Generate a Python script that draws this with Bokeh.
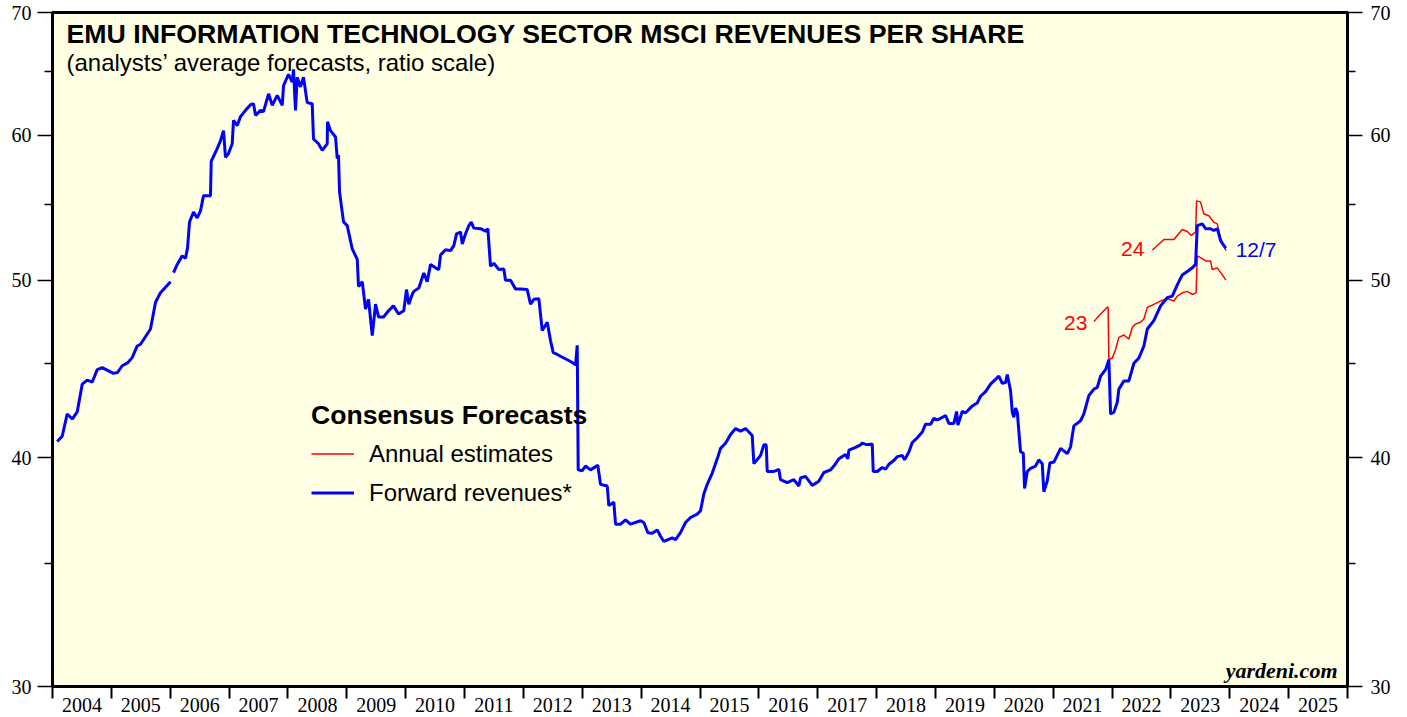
from bokeh.plotting import figure
from bokeh.models import (Range1d, FixedTicker, LogAxis, Label, Legend, LegendItem,
                          CustomJSTickFormatter)
from bokeh.embed import file_html
from bokeh.resources import INLINE

NaN = float("nan")

# ---- data (decimal years, revenues per share) ----
fwd_dates = [
    2004.080, 2004.165, 2004.250, 2004.335, 2004.420, 2004.505, 2004.590, 2004.675, 2004.760, 2004.845,
    2005.036, 2005.104, 2005.184, 2005.274, 2005.354, 2005.439, 2005.495, 2005.665, 2005.750, 2005.835,
    2006.005, 2006.030, 2006.056, 2006.119, 2006.204, 2006.260, 2006.294, 2006.328, 2006.396, 2006.458,
    2006.514, 2006.565, 2006.684, 2006.696, 2006.735, 2006.798, 2006.854, 2006.905, 2006.939, 2006.990,
    2007.053, 2007.075, 2007.138, 2007.194, 2007.279, 2007.364, 2007.415, 2007.449, 2007.534, 2007.585,
    2007.670, 2007.733, 2007.818, 2007.903, 2007.925, 2008.010, 2008.072, 2008.094, 2008.128, 2008.157,
    2008.213, 2008.264, 2008.327, 2008.412, 2008.434, 2008.519, 2008.582, 2008.667, 2008.672, 2008.723,
    2008.808, 2008.837, 2008.859, 2008.876, 2008.944, 2009.007, 2009.092, 2009.177, 2009.199, 2009.262,
    2009.318, 2009.369, 2009.432, 2009.488, 2009.539, 2009.624, 2009.709, 2009.793, 2009.878, 2009.968,
    2010.014, 2010.053, 2010.111, 2010.138, 2010.223, 2010.308, 2010.366, 2010.422, 2010.507, 2010.563,
    2010.592, 2010.677, 2010.762, 2010.818, 2010.864, 2010.932, 2010.961, 2011.017, 2011.073, 2011.114,
    2011.158, 2011.272, 2011.357, 2011.396, 2011.441, 2011.498, 2011.583, 2011.667, 2011.696, 2011.781,
    2011.866, 2011.951, 2012.065, 2012.121, 2012.177, 2012.262, 2012.320, 2012.405, 2012.461, 2012.507,
    2012.575, 2012.687, 2012.801, 2012.886, 2012.914, 2012.931, 2012.999, 2013.055, 2013.140, 2013.264,
    2013.310, 2013.424, 2013.451, 2013.536, 2013.565, 2013.650, 2013.735, 2013.820, 2013.990, 2014.046,
    2014.114, 2014.189, 2014.274, 2014.330, 2014.386, 2014.529, 2014.584, 2014.669, 2014.754, 2014.839,
    2014.953, 2015.009, 2015.065, 2015.123, 2015.208, 2015.293, 2015.349, 2015.434, 2015.519, 2015.604,
    2015.689, 2015.774, 2015.887, 2015.915, 2016.029, 2016.084, 2016.125, 2016.142, 2016.254, 2016.339,
    2016.368, 2016.482, 2016.594, 2016.679, 2016.708, 2016.793, 2016.907, 2017.019, 2017.104, 2017.218,
    2017.274, 2017.359, 2017.473, 2017.512, 2017.529, 2017.643, 2017.727, 2017.756, 2017.841, 2017.926,
    2017.943, 2018.011, 2018.096, 2018.152, 2018.209, 2018.293, 2018.351, 2018.436, 2018.475, 2018.548,
    2018.606, 2018.691, 2018.776, 2018.832, 2018.917, 2018.973, 2019.031, 2019.087, 2019.172, 2019.228,
    2019.313, 2019.359, 2019.381, 2019.455, 2019.511, 2019.567, 2019.625, 2019.710, 2019.766, 2019.851,
    2019.936, 2020.021, 2020.077, 2020.135, 2020.191, 2020.220, 2020.276, 2020.305, 2020.332, 2020.361,
    2020.390, 2020.446, 2020.492, 2020.514, 2020.560, 2020.616, 2020.700, 2020.756, 2020.814, 2020.841,
    2020.899, 2020.944, 2021.012, 2021.126, 2021.240, 2021.295, 2021.351, 2021.465, 2021.521, 2021.606,
    2021.691, 2021.749, 2021.805, 2021.890, 2021.946, 2021.975, 2022.031, 2022.089, 2022.116, 2022.201,
    2022.286, 2022.371, 2022.456, 2022.541, 2022.599, 2022.710, 2022.824, 2022.938, 2023.023, 2023.108,
    2023.193, 2023.278, 2023.363, 2023.419, 2023.448, 2023.533, 2023.589, 2023.674, 2023.730, 2023.788,
    2023.844, 2023.900, 2023.935,
]
fwd_values = [
    40.82, 41.09, 42.26, 41.99, 42.37, 43.87, 44.10, 43.99, 44.68, 44.79,
    44.47, 44.52, 44.90, 45.06, 45.36, 46.03, 46.13, 47.02, 48.63, 49.22,
    49.90, NaN, 50.47, 51.00, 51.55, 51.40, 52.07, 53.80, 54.47, 54.07,
    54.55, 55.60, 55.60, 58.05, 58.41, 58.99, 59.59, 60.34, 58.34, 58.63,
    59.35, 61.12, 60.73, 61.41, 61.90, 62.34, 62.42, 61.51, 61.90, 61.80,
    63.20, 62.29, 63.07, 62.29, 63.85, 64.77, 64.14, 65.17, 61.90, 64.53,
    63.75, 64.53, 62.50, 62.42, 59.71, 59.35, 58.86, 59.35, 61.01, 60.34,
    59.86, 58.26, 58.50, 55.87, 53.80, 53.55, 52.00, 51.33, 49.60, 49.90,
    48.22, 48.81, 46.63, 48.51, 47.74, 47.74, 48.11, 48.41, 47.92, 48.11,
    49.41, 48.51, 49.11, 49.30, 49.51, 50.45, 49.90, 51.00, 50.78, 50.67,
    51.60, 51.95, 51.89, 52.22, 53.00, 53.12, 52.33, 53.00, 53.55, 53.78,
    53.38, 53.34, 53.18, 53.34, 50.89, 51.07, 50.67, 50.71, 50.00, 50.00,
    49.45, 49.45, 49.41, 48.51, 48.81, 48.85, 46.93, 47.42, 46.33, 45.64,
    45.54, 45.34, 45.14, 44.95, 46.07, 39.39, 39.35, 39.58, 39.39, 39.62,
    38.68, 38.60, 37.66, 37.82, 36.79, 36.79, 36.99, 36.79, 36.95, 36.87,
    36.40, 36.37, 36.52, 36.24, 36.00, 36.16, 36.08, 36.40, 36.87, 37.10,
    37.26, 37.42, 38.21, 38.68, 39.23, 39.94, 40.47, 40.73, 41.18, 41.49,
    41.36, 41.49, 41.13, 39.70, 40.11, 40.65, 40.65, 39.31, 39.31, 39.42,
    38.91, 38.76, 38.91, 38.60, 38.99, 39.07, 38.63, 38.83, 39.26, 39.39,
    39.58, 39.94, 40.16, 39.94, 40.38, 40.52, 40.65, 40.74, 40.65, 40.70,
    39.31, 39.31, 39.51, 39.42, 39.67, 39.86, 40.05, 40.11, 39.89, 40.29,
    40.77, 41.01, 41.31, 41.72, 41.72, 42.03, 41.95, 42.03, 42.17, 41.76,
    41.76, 42.39, 41.67, 42.39, 42.32, 42.50, 42.68, 42.85, 43.21, 43.46,
    43.87, 44.14, 44.32, 43.92, 43.96, 44.41, 43.51, 42.35, 42.08, 42.57,
    42.35, 40.29, 40.23, 38.48, 39.31, 39.47, 39.58, 39.89, 39.70, 38.32,
    38.84, 39.73, 39.78, 40.47, 40.20, 40.55, 41.63, 41.90, 42.26, 43.24,
    43.60, 43.69, 44.32, 44.68, 45.24, 42.26, 42.35, 42.89, 43.60, 44.05,
    44.05, 45.04, 45.34, 46.03, 47.02, 47.52, 48.41, 48.91, 49.01, 49.70,
    50.33, 50.55, 50.78, 51.00, 53.55, 53.67, 53.34, 53.34, 53.22, 53.34,
    52.55, 52.22, 52.05,
]

est23_dates = [
    2021.691, 2021.805, 2021.919, 2021.933, 2021.946, 2022.004, 2022.060, 2022.116, 2022.201, 2022.286,
    2022.344, 2022.400, 2022.485, 2022.541, 2022.599, 2022.684, 2022.769, 2022.824, 2022.938, 2023.050,
    2023.108, 2023.193, 2023.278, 2023.363, 2023.428, 2023.448, 2023.503, 2023.589, 2023.674, 2023.703,
    2023.788, 2023.873, 2023.935,
]
est23_values = [
    47.46, 47.92, 48.32, 48.32, 45.24, 45.34, 45.83, 46.53, 46.67, 46.43,
    47.13, 47.32, 47.42, 47.62, 48.32, 48.45, 48.61, 48.71, 48.85, 48.71,
    49.01, 49.21, 49.30, 49.11, 49.21, 51.55, 51.44, 51.22, 51.22, 50.67,
    50.78, 50.33, 50.00,
]

est24_dates = [
    2022.684, 2022.881, 2023.050, 2023.193, 2023.278, 2023.346, 2023.419, 2023.436, 2023.503, 2023.561,
    2023.646, 2023.730, 2023.788, 2023.844, 2023.900, 2023.935,
]
est24_values = [
    51.93, 52.62, 52.62, 53.29, 53.15, 52.89, 53.11, 55.24, 55.17, 54.33,
    54.22, 53.78, 53.67, 52.67, 52.22, 51.89,
]

year_labels = [str(y) for y in range(2004, 2026)]
y_major = [30, 40, 50, 60, 70]
y_minor = [35, 45, 55, 65]

SERIF = "Liberation Serif"
SANS = "Liberation Sans"

p = figure(width=1407, height=717,
           x_range=Range1d(2004, 2026), y_range=Range1d(30, 70),
           y_axis_type="log", output_backend="svg", toolbar_location=None,
           min_border_left=52, min_border_right=60, min_border_top=12, min_border_bottom=31)

p.background_fill_color = "#FFFFE3"
p.border_fill_color = "white"
p.outline_line_color = "black"
p.outline_line_width = 3
p.xgrid.visible = False
p.ygrid.visible = False

yticker = FixedTicker(ticks=y_major, minor_ticks=y_minor)


def style_y(ax, standoff):
    ax.ticker = yticker
    ax.axis_line_color = None
    ax.major_tick_out = 15
    ax.major_tick_in = 0
    ax.minor_tick_out = 8
    ax.minor_tick_in = 0
    ax.major_tick_line_width = 1.5
    ax.minor_tick_line_width = 1.5
    ax.major_tick_line_color = "black"
    ax.minor_tick_line_color = "black"
    ax.major_label_text_font = SERIF
    ax.major_label_text_font_size = "20px"
    ax.major_label_text_color = "black"
    ax.major_label_standoff = standoff


style_y(p.yaxis[0], 6)
right = LogAxis()
style_y(right, 8)
p.add_layout(right, "right")

xa = p.xaxis[0]
xa.ticker = FixedTicker(ticks=[y + 0.5 for y in range(2004, 2026)],
                        minor_ticks=list(range(2004, 2027)))
xa.formatter = CustomJSTickFormatter(args=dict(labels=year_labels),
                                     code="return labels[Math.floor(tick) - 2004];")
xa.axis_line_color = None
xa.major_tick_out = 0
xa.major_tick_in = 0
xa.minor_tick_out = 12
xa.minor_tick_in = 0
xa.minor_tick_line_width = 2
xa.minor_tick_line_color = "black"
xa.major_label_text_font = SERIF
xa.major_label_text_font_size = "20px"
xa.major_label_text_color = "black"
xa.major_label_standoff = -1

# ---- lines ----
r23 = p.line(est23_dates, est23_values, line_color="#FF0000", line_width=1.5)
r24 = p.line(est24_dates, est24_values, line_color="#FF0000", line_width=1.5)
rb = p.line(fwd_dates, fwd_values, line_color="#0000FF", line_width=3)

# ---- annotations ----
p.add_layout(Label(x=14, y=653, x_units="screen", y_units="screen",
                   text="EMU INFORMATION TECHNOLOGY SECTOR MSCI REVENUES PER SHARE",
                   text_font=SANS, text_font_style="bold", text_font_size="26.7px",
                   text_color="black", text_baseline="middle"))
p.add_layout(Label(x=14, y=624, x_units="screen", y_units="screen",
                   text="(analysts\u2019 average forecasts, ratio scale)",
                   text_font=SANS, text_font_size="24px",
                   text_color="black", text_baseline="middle"))
p.add_layout(Label(x=1285, y=16, x_units="screen", y_units="screen",
                   text="yardeni.com", text_font=SERIF, text_font_style="bold italic",
                   text_font_size="22px", text_color="black",
                   text_align="right", text_baseline="middle"))

p.add_layout(Label(x=2021.58, y=47.4, text="23", text_font=SANS, text_font_size="21px",
                   text_color="#FF0000", text_align="right", text_baseline="middle"))
p.add_layout(Label(x=2022.55, y=51.97, text="24", text_font=SANS, text_font_size="21px",
                   text_color="#FF0000", text_align="right", text_baseline="middle"))
p.add_layout(Label(x=2024.10, y=51.97, text="12/7", text_font=SANS, text_font_size="21px",
                   text_color="#0000FF", text_align="left", text_baseline="middle"))

legend = Legend(items=[LegendItem(label="Annual estimates", renderers=[r23]),
                       LegendItem(label="Forward revenues*", renderers=[rb])],
                location=(259, 174), title="Consensus Forecasts",
                title_text_font=SANS, title_text_font_style="bold",
                title_text_font_size="26.6px", title_text_color="black",
                title_standoff=3,
                label_text_font=SANS, label_text_font_size="24px",
                label_text_color="black",
                glyph_width=43, glyph_height=39, label_height=39,
                label_standoff=15, spacing=0, padding=0, margin=0,
                border_line_color=None, background_fill_alpha=0)
p.add_layout(legend)

open("out.html", "w").write(file_html(p, INLINE))
